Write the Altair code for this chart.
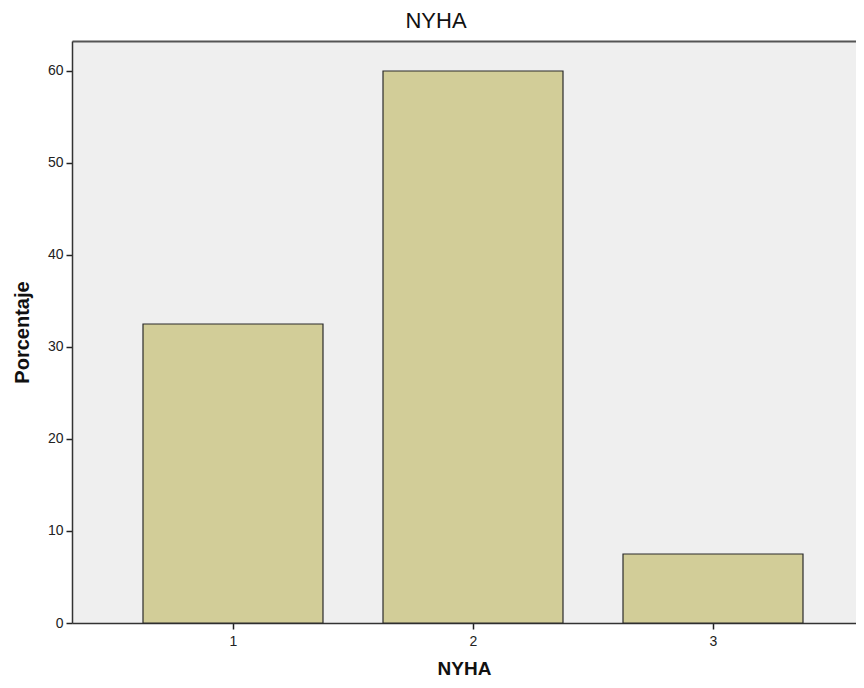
import altair as alt
import pandas as pd

categories = [1, 2, 3]
percentages = [32.5, 60.0, 7.5]
y_ticks = [0, 10, 20, 30, 40, 50, 60]

df = pd.DataFrame({"NYHA": categories, "Porcentaje": percentages})

FONT = "Liberation Sans"
X_DOMAIN = [0.3292, 3.5958]
Y_DOMAIN = [0, 63.26]

bars = (
    alt.Chart(df)
    .mark_bar(size=180, color="#D2CD98", stroke="#2b2b2b", strokeWidth=1.2)
    .encode(
        x=alt.X(
            "NYHA:Q",
            scale=alt.Scale(domain=X_DOMAIN, nice=False, zero=False, padding=0),
            axis=alt.Axis(
                values=categories,
                format="d",
                grid=False,
                title="NYHA",
                titleFont=FONT,
                titleFontSize=19,
                titleFontWeight="bold",
                titleColor="#111",
                titlePadding=11,
                labelFont=FONT,
                labelFontSize=14,
                labelColor="#222",
                labelPadding=5,
                tickSize=6,
                tickColor="#222",
                tickWidth=1.5,
                domainColor="#333",
                domainWidth=1.5,
            ),
        ),
        y=alt.Y(
            "Porcentaje:Q",
            scale=alt.Scale(domain=Y_DOMAIN, nice=False),
            axis=alt.Axis(
                values=y_ticks,
                grid=False,
                title="Porcentaje",
                titleFont=FONT,
                titleFontSize=20,
                titleFontWeight="bold",
                titleColor="#111",
                titlePadding=15,
                labelFont=FONT,
                labelFontSize=14,
                labelColor="#222",
                labelPadding=3,
                tickSize=6,
                tickColor="#222",
                tickWidth=1.5,
                domainColor="#333",
                domainWidth=1.5,
            ),
        ),
    )
)

top_frame = (
    alt.Chart(df)
    .mark_point(opacity=0)
    .encode(
        x=alt.X(
            "NYHA:Q",
            scale=alt.Scale(domain=X_DOMAIN, nice=False, zero=False, padding=0),
            axis=alt.Axis(
                orient="top",
                labels=False,
                ticks=False,
                grid=False,
                title=None,
                domainColor="#555",
                domainWidth=2,
            ),
        ),
        y=alt.Y("Porcentaje:Q", scale=alt.Scale(domain=Y_DOMAIN, nice=False)),
    )
)

chart = (
    alt.layer(bars, top_frame)
    .resolve_axis(x="independent")
    .properties(
        width=784,
        height=582,
        title=alt.TitleParams(
            "NYHA",
            font=FONT,
            fontSize=22,
            fontWeight="normal",
            color="#111",
            anchor="middle",
            dx=-28,
            offset=8,
        ),
        autosize=alt.AutoSizeParams(type="none"),
        padding={"left": 64, "top": 33, "right": 0, "bottom": 56},
    )
    .configure_view(fill="#EFEFEF", stroke=None)
)

chart.save("out.html", embed_options={"renderer": "svg", "actions": False})
